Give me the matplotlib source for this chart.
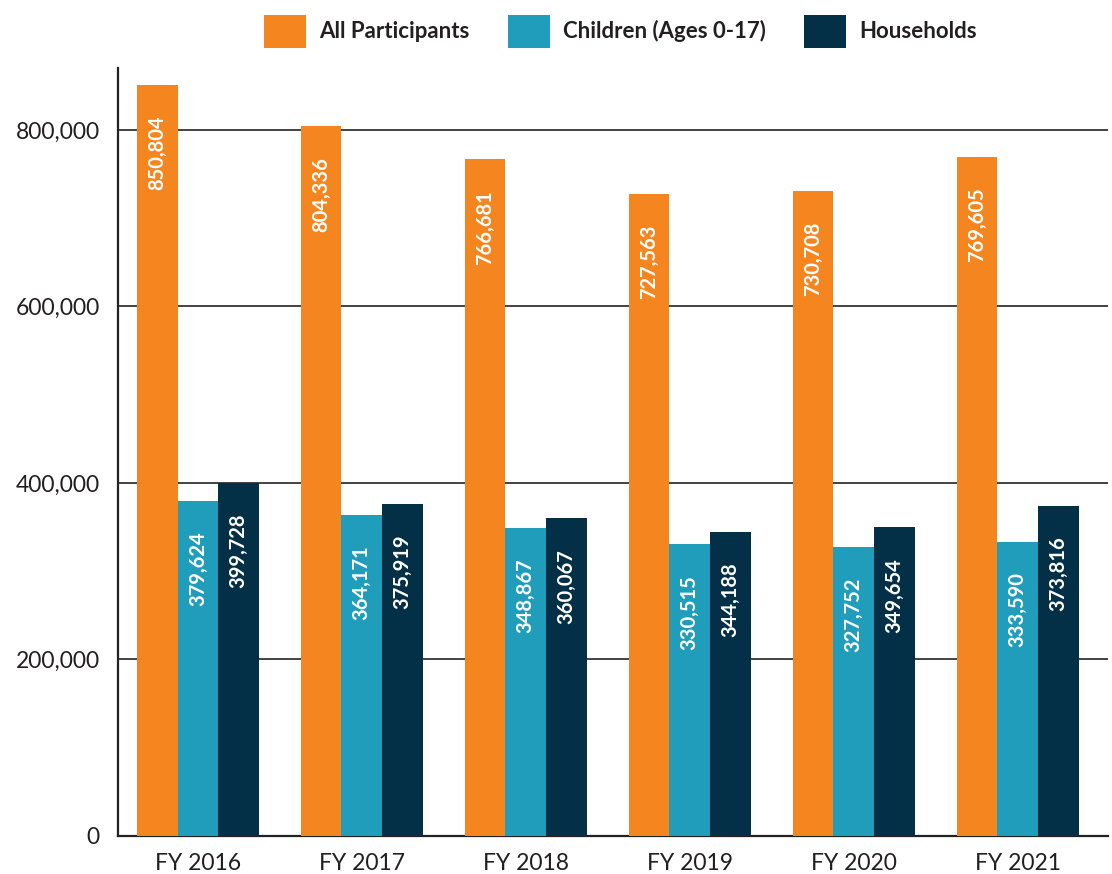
import numpy as np
import matplotlib
matplotlib.use('Agg')
import matplotlib.pyplot as plt
from matplotlib.ticker import FuncFormatter

# 資料
years = ['FY 2016', 'FY 2017', 'FY 2018', 'FY 2019', 'FY 2020', 'FY 2021']
all_participants = [850804, 804336, 766681, 727563, 730708, 769605]
children = [379624, 364171, 348867, 330515, 327752, 333590]
households = [399728, 375919, 360067, 344188, 349654, 373816]

series_names = ['All Participants', 'Children (Ages 0-17)', 'Households']
colors = ['#F5861F', '#219DBC', '#043047']

plt.rcParams['font.family'] = ['Lato', 'DejaVu Sans']
text_color = '#231F20'

fig = plt.figure(figsize=(11.12, 8.74), dpi=100)
ax = fig.add_axes([0.106, 0.0435, 0.89, 0.8785])

x = np.arange(len(years))
width = 0.248
all_series = [all_participants, children, households]
for i, (vals, name, c) in enumerate(zip(all_series, series_names, colors)):
    bars = ax.bar(x + (i - 1) * width, vals, width, color=c, label=name, zorder=3)
    for b, v in zip(bars, vals):
        ax.annotate(f'{v:,}', (b.get_x() + b.get_width() / 2, v),
                    xytext=(0, -22), textcoords='offset points',
                    rotation=90, ha='center', va='top',
                    color='white', fontsize=14.5, fontweight='bold', zorder=4)

ax.set_xlim(-0.488, 5.549)
ax.set_ylim(0, 870000)
ax.set_yticks([0, 200000, 400000, 600000, 800000])
ax.yaxis.set_major_formatter(FuncFormatter(lambda v, p: f'{int(v):,}'))
ax.set_xticks(x)
ax.set_xticklabels(years)
ax.tick_params(axis='both', length=0, labelsize=16.5, colors=text_color)
ax.tick_params(axis='x', pad=12)
ax.tick_params(axis='y', pad=13)
ax.yaxis.grid(True, color='#222222', linewidth=1.2, zorder=0)
ax.set_axisbelow(True)
for s in ['top', 'right']:
    ax.spines[s].set_visible(False)
for s in ['left', 'bottom']:
    ax.spines[s].set_color('#222222')
    ax.spines[s].set_linewidth(1.6)

leg = fig.legend(loc='upper center', bbox_to_anchor=(0.558, 1.006), ncol=3,
                 frameon=False, handlelength=1.9, handleheight=1.9,
                 handletextpad=0.6, columnspacing=1.7,
                 prop={'size': 16, 'weight': 'bold'})
for t in leg.get_texts():
    t.set_color(text_color)

plt.savefig('out.png', dpi=100)
